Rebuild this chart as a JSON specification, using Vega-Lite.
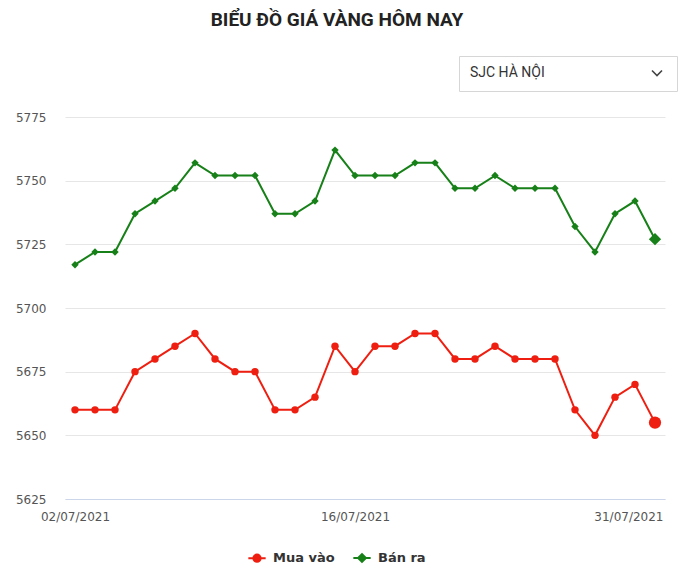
{
  "$schema": "https://vega.github.io/schema/vega-lite/v6.json",
  "width": 600,
  "height": 382,
  "padding": {"left": 15, "top": 10, "right": 3, "bottom": 10},
  "background": "white",
  "title": {
    "text": "BIỂU ĐỒ GIÁ VÀNG HÔM NAY",
    "font": "Roboto",
    "fontSize": 19,
    "fontWeight": "bold",
    "color": "#222222",
    "anchor": "middle",
    "offset": 26,
    "dx": -28
  },
  "datasets": {
    "gia": [
      {"ngay": "02/07/2021", "loai": "Mua vào", "gia": 5660}, {"ngay": "02/07/2021", "loai": "Bán ra", "gia": 5717},
      {"ngay": "03/07/2021", "loai": "Mua vào", "gia": 5660}, {"ngay": "03/07/2021", "loai": "Bán ra", "gia": 5722},
      {"ngay": "04/07/2021", "loai": "Mua vào", "gia": 5660}, {"ngay": "04/07/2021", "loai": "Bán ra", "gia": 5722},
      {"ngay": "05/07/2021", "loai": "Mua vào", "gia": 5675}, {"ngay": "05/07/2021", "loai": "Bán ra", "gia": 5737},
      {"ngay": "06/07/2021", "loai": "Mua vào", "gia": 5680}, {"ngay": "06/07/2021", "loai": "Bán ra", "gia": 5742},
      {"ngay": "07/07/2021", "loai": "Mua vào", "gia": 5685}, {"ngay": "07/07/2021", "loai": "Bán ra", "gia": 5747},
      {"ngay": "08/07/2021", "loai": "Mua vào", "gia": 5690}, {"ngay": "08/07/2021", "loai": "Bán ra", "gia": 5757},
      {"ngay": "09/07/2021", "loai": "Mua vào", "gia": 5680}, {"ngay": "09/07/2021", "loai": "Bán ra", "gia": 5752},
      {"ngay": "10/07/2021", "loai": "Mua vào", "gia": 5675}, {"ngay": "10/07/2021", "loai": "Bán ra", "gia": 5752},
      {"ngay": "11/07/2021", "loai": "Mua vào", "gia": 5675}, {"ngay": "11/07/2021", "loai": "Bán ra", "gia": 5752},
      {"ngay": "12/07/2021", "loai": "Mua vào", "gia": 5660}, {"ngay": "12/07/2021", "loai": "Bán ra", "gia": 5737},
      {"ngay": "13/07/2021", "loai": "Mua vào", "gia": 5660}, {"ngay": "13/07/2021", "loai": "Bán ra", "gia": 5737},
      {"ngay": "14/07/2021", "loai": "Mua vào", "gia": 5665}, {"ngay": "14/07/2021", "loai": "Bán ra", "gia": 5742},
      {"ngay": "15/07/2021", "loai": "Mua vào", "gia": 5685}, {"ngay": "15/07/2021", "loai": "Bán ra", "gia": 5762},
      {"ngay": "16/07/2021", "loai": "Mua vào", "gia": 5675}, {"ngay": "16/07/2021", "loai": "Bán ra", "gia": 5752},
      {"ngay": "17/07/2021", "loai": "Mua vào", "gia": 5685}, {"ngay": "17/07/2021", "loai": "Bán ra", "gia": 5752},
      {"ngay": "18/07/2021", "loai": "Mua vào", "gia": 5685}, {"ngay": "18/07/2021", "loai": "Bán ra", "gia": 5752},
      {"ngay": "19/07/2021", "loai": "Mua vào", "gia": 5690}, {"ngay": "19/07/2021", "loai": "Bán ra", "gia": 5757},
      {"ngay": "20/07/2021", "loai": "Mua vào", "gia": 5690}, {"ngay": "20/07/2021", "loai": "Bán ra", "gia": 5757},
      {"ngay": "21/07/2021", "loai": "Mua vào", "gia": 5680}, {"ngay": "21/07/2021", "loai": "Bán ra", "gia": 5747},
      {"ngay": "22/07/2021", "loai": "Mua vào", "gia": 5680}, {"ngay": "22/07/2021", "loai": "Bán ra", "gia": 5747},
      {"ngay": "23/07/2021", "loai": "Mua vào", "gia": 5685}, {"ngay": "23/07/2021", "loai": "Bán ra", "gia": 5752},
      {"ngay": "24/07/2021", "loai": "Mua vào", "gia": 5680}, {"ngay": "24/07/2021", "loai": "Bán ra", "gia": 5747},
      {"ngay": "25/07/2021", "loai": "Mua vào", "gia": 5680}, {"ngay": "25/07/2021", "loai": "Bán ra", "gia": 5747},
      {"ngay": "26/07/2021", "loai": "Mua vào", "gia": 5680}, {"ngay": "26/07/2021", "loai": "Bán ra", "gia": 5747},
      {"ngay": "27/07/2021", "loai": "Mua vào", "gia": 5660}, {"ngay": "27/07/2021", "loai": "Bán ra", "gia": 5732},
      {"ngay": "28/07/2021", "loai": "Mua vào", "gia": 5650}, {"ngay": "28/07/2021", "loai": "Bán ra", "gia": 5722},
      {"ngay": "29/07/2021", "loai": "Mua vào", "gia": 5665}, {"ngay": "29/07/2021", "loai": "Bán ra", "gia": 5737},
      {"ngay": "30/07/2021", "loai": "Mua vào", "gia": 5670}, {"ngay": "30/07/2021", "loai": "Bán ra", "gia": 5742},
      {"ngay": "31/07/2021", "loai": "Mua vào", "gia": 5655}, {"ngay": "31/07/2021", "loai": "Bán ra", "gia": 5727}
    ],
    "chon": [{"sel": "SJC HÀ NỘI"}]
  },
  "resolve": {"scale": {"shape": "independent"}, "legend": {"shape": "independent"}},
  "layer": [
    {
      "data": {"name": "gia"},
      "mark": {"type": "line", "strokeWidth": 2},
      "encoding": {
        "x": {
          "field": "ngay", "type": "ordinal", "sort": null,
          "scale": {"type": "point", "padding": 0.5},
          "axis": {
            "title": null,
            "values": ["02/07/2021", "16/07/2021", "31/07/2021"],
            "labelAngle": 0,
            "grid": false,
            "ticks": false,
            "domain": true,
            "domainColor": "#ccd6eb",
            "domainWidth": 1,
            "labelPadding": 12,
            "labelFont": "DejaVu Sans",
            "labelFontSize": 12,
            "labelColor": "#555555",
            "labelAlign": {"condition": {"test": "datum.value === '31/07/2021'", "value": "right"}, "value": "center"},
            "labelOffset": {"condition": {"test": "datum.value === '31/07/2021'", "value": 8}, "value": 0}
          }
        },
        "y": {
          "field": "gia", "type": "quantitative",
          "scale": {"domain": [5625, 5775], "nice": false, "zero": false},
          "axis": {
            "title": null,
            "format": "d",
            "values": [5625, 5650, 5675, 5700, 5725, 5750, 5775],
            "domain": false,
            "ticks": false,
            "labelPadding": 19,
            "labelFont": "DejaVu Sans",
            "labelFontSize": 12,
            "labelColor": "#555555",
            "gridColor": "#e6e6e6",
            "gridWidth": 1
          }
        },
        "color": {
          "field": "loai", "type": "nominal",
          "scale": {"domain": ["Mua vào", "Bán ra"], "range": ["#ee1f10", "#178018"]},
          "legend": {
            "title": null,
            "orient": "none",
            "direction": "horizontal",
            "legendX": 182,
            "legendY": 431,
            "labelFont": "DejaVu Sans",
            "labelFontSize": 13,
            "labelFontWeight": "bold",
            "labelColor": "#333333",
            "labelOffset": 6,
            "columnPadding": 14,
            "symbolSize": 300,
            "symbolStrokeWidth": 2,
            "encode": {
              "symbols": {
                "update": {
                  "shape": {"signal": "datum.value === 'Mua vào' ? 'M-1,0L-0.42,0M0.42,0L1,0M-0.42,0A0.42,0.42,0,1,0,0.42,0A0.42,0.42,0,1,0,-0.42,0Z' : 'M-1,0L-0.45,0M0.45,0L1,0M-0.45,0L0,-0.45L0.45,0L0,0.45Z'"},
                  "fill": {"signal": "datum.value === 'Mua vào' ? '#ee1f10' : '#178018'"},
                  "stroke": {"signal": "datum.value === 'Mua vào' ? '#ee1f10' : '#178018'"},
                  "opacity": {"value": 1},
                  "fillOpacity": {"value": 1}
                }
              }
            }
          }
        }
      }
    },
    {
      "data": {"name": "gia"},
      "mark": {"type": "point", "filled": true, "opacity": 1},
      "encoding": {
        "x": {"field": "ngay", "type": "ordinal", "sort": null},
        "y": {"field": "gia", "type": "quantitative"},
        "color": {"field": "loai", "type": "nominal"},
        "shape": {
          "field": "loai", "type": "nominal",
          "scale": {"domain": ["Mua vào", "Bán ra"], "range": ["circle", "diamond"]},
          "legend": null
        },
        "size": {"condition": {"test": "datum.ngay === '31/07/2021'", "value": 150}, "value": 55}
      }
    },
    {
      "data": {"name": "chon"},
      "mark": {"type": "point", "opacity": 0, "filled": false},
      "encoding": {
        "shape": {
          "field": "sel", "type": "nominal",
          "scale": {"range": ["M-1,-0.5L0,0.5L1,-0.5"]},
          "legend": {
            "orient": "none",
            "legendX": 394,
            "legendY": -61,
            "title": "SJC HÀ NỘI",
            "titleOrient": "left",
            "titleFont": "Roboto",
            "titleFontSize": 14,
            "titleFontWeight": "normal",
            "titleColor": "#333333",
            "titlePadding": 106,
            "labelExpr": "''",
            "labelOffset": 0,
            "symbolSize": 100,
            "symbolOpacity": 1,
            "symbolStrokeColor": "#444444",
            "symbolStrokeWidth": 1.6,
            "symbolFillColor": "transparent",
            "strokeColor": "#d6d6d6",
            "fillColor": "white",
            "padding": 11
          }
        }
      }
    }
  ],
  "config": {
    "view": {"stroke": null}
  }
}
